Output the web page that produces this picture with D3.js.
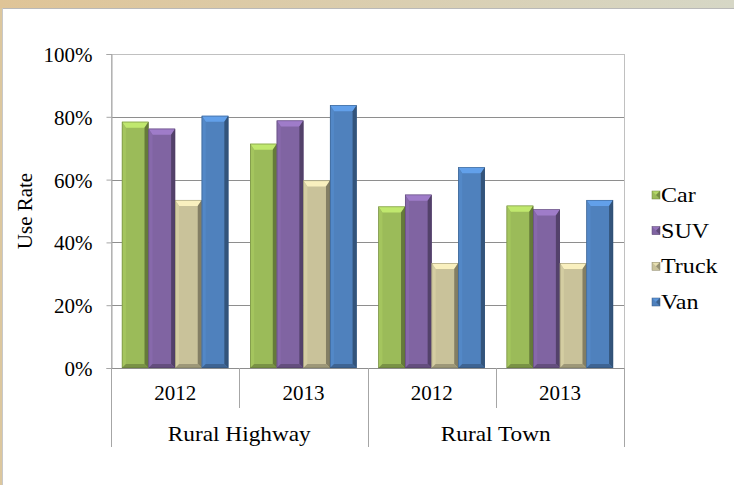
<!DOCTYPE html>
<html>
<head>
<meta charset="utf-8">
<script src="https://cdn.jsdelivr.net/npm/d3@7"></script>
<style>
  html, body { margin: 0; padding: 0; background: #fff; }
  svg { display: block; font-family: "Liberation Serif", "Times New Roman", serif; }
  svg text { font-family: "Liberation Serif", "Times New Roman", serif; }
</style>
</head>
<body>
<svg id="chart" width="734" height="485"></svg>
<script>
// data
const regions = ["Rural Highway", "Rural Town"];
const years = ["2012", "2013"];
const series = ["Car", "SUV", "Truck", "Van"];
const car   = [78.4, 71.4, 51.4, 51.7];
const suv   = [76.2, 78.8, 55.2, 50.5];
const truck = [53.5, 59.7, 33.4, 33.4];
const van   = [80.3, 83.7, 63.9, 53.5];
const yTicks = [0, 20, 40, 60, 80, 100];
const colors = ["#9bbb59", "#8064a2", "#c9c29a", "#4f81bd"];

const values = [car, suv, truck, van];
// one entry per category column (region x year)
const cats = [];
regions.forEach((r, ri) => years.forEach((yr, yi) => cats.push({ region: r, year: yr, key: r + "|" + yr, idx: ri * years.length + yi })));

const svg = d3.select("#chart");
const font = "Liberation Serif, Times New Roman, serif";
const fs = 21;

// page frame: tan band on top, thin tan strip on the left
const grad = svg.append("defs").append("linearGradient").attr("id", "band");
grad.append("stop").attr("offset", "0%").attr("stop-color", "#dfc497");
grad.append("stop").attr("offset", "100%").attr("stop-color", "#d6d7c6");
svg.append("rect").attr("x", 0).attr("y", 0).attr("width", 734).attr("height", 8).attr("fill", "url(#band)");
svg.append("line").attr("x1", 3).attr("x2", 734).attr("y1", 8.5).attr("y2", 8.5).attr("stroke", "#b9b9b9");
svg.append("rect").attr("x", 0).attr("y", 8).attr("width", 2).attr("height", 477).attr("fill", "#dcc79e");
svg.append("line").attr("x1", 2.5).attr("x2", 2.5).attr("y1", 8).attr("y2", 485).attr("stroke", "#c8c8c8");

const margin = { left: 111, right: 624, top: 54, bottom: 368 };

const y = d3.scaleLinear().domain([0, 100]).range([margin.bottom, margin.top]);
const x0 = d3.scaleBand().domain(cats.map(c => c.key)).range([margin.left, margin.right]).padding(0);
const x1 = d3.scaleBand().domain(series).range([0, x0.bandwidth()]).paddingInner(0).paddingOuter(0.41);

const g = svg.append("g");

// gridlines
g.selectAll(".grid").data(yTicks.filter(t => t > 0 && t < 100)).join("line")
  .attr("x1", margin.left).attr("x2", margin.right)
  .attr("y1", d => Math.round(y(d)) + 0.5).attr("y2", d => Math.round(y(d)) + 0.5)
  .attr("stroke", "#8e8e8e");

// plot border
g.append("rect")
  .attr("x", margin.left + 0.5).attr("y", margin.top + 0.5)
  .attr("width", margin.right - margin.left).attr("height", margin.bottom - margin.top)
  .attr("fill", "none").attr("stroke", "#c0c0c0");
g.append("line").attr("x1", margin.left).attr("x2", margin.right)
  .attr("y1", margin.bottom + 0.5).attr("y2", margin.bottom + 0.5).attr("stroke", "#8e8e8e");

// y axis
const yAxis = d3.axisLeft(y).tickValues(yTicks).tickFormat(d => d + "%").tickSize(5).tickPadding(14);
const ya = svg.append("g").attr("transform", `translate(${margin.left + 0.5},0)`).call(yAxis);
ya.attr("font-family", font).attr("font-size", fs);
ya.select(".domain").attr("stroke", "#a6a6a6");
ya.selectAll(".tick line").attr("stroke", "#a6a6a6");
ya.selectAll("text").attr("fill", "#000").attr("dy", "0.36em");

svg.append("text")
  .attr("transform", "translate(32,211) rotate(-90)")
  .attr("text-anchor", "middle")
  .attr("font-family", font).attr("font-size", fs)
  .text("Use Rate");

// bevelled bars
function bevelBar(sel, x, yTop, w, h, color) {
  const c = d3.color(color);
  const b = Math.min(6, h / 2);
  const s = 4;
  sel.append("rect").attr("x", x).attr("y", yTop).attr("width", w).attr("height", h).attr("fill", color);
  sel.append("polygon")
    .attr("points", [[x, yTop], [x + w, yTop], [x + w - s, yTop + b], [x + s, yTop + b]].join(" "))
    .attr("fill", c.brighter(0.6));
  sel.append("polygon")
    .attr("points", [[x, yTop], [x + s, yTop + b], [x + s, yTop + h - s], [x, yTop + h]].join(" "))
    .attr("fill", c.brighter(0.15));
  sel.append("polygon")
    .attr("points", [[x + w, yTop], [x + w, yTop + h], [x + w - s, yTop + h - s], [x + w - s, yTop + b]].join(" "))
    .attr("fill", c.darker(1.2));
  sel.append("polygon")
    .attr("points", [[x, yTop + h], [x + s, yTop + h - s], [x + w - s, yTop + h - s], [x + w, yTop + h]].join(" "))
    .attr("fill", c.darker(0.7));
  sel.append("rect").attr("x", x + 0.25).attr("y", yTop + 0.25).attr("width", w - 0.5).attr("height", h - 0.5)
    .attr("fill", "none").attr("stroke", c.darker(1.5)).attr("stroke-width", 0.6).attr("stroke-opacity", 0.7);
}

cats.forEach(cat => {
  series.forEach((s, si) => {
    const v = values[si][cat.idx];
    const bx = x0(cat.key) + x1(s);
    bevelBar(g.append("g"), bx, y(v), x1.bandwidth(), y(0) - y(v), colors[si]);
  });
});

// two level category axis
const axis = svg.append("g").attr("font-family", font);
cats.forEach((cat, i) => {
  const left = x0(cat.key);
  const firstOfRegion = i % years.length === 0;
  axis.append("line")
    .attr("x1", Math.round(left) + 0.5).attr("x2", Math.round(left) + 0.5)
    .attr("y1", margin.bottom).attr("y2", firstOfRegion ? 447 : 408)
    .attr("stroke", "#a6a6a6");
  axis.append("text")
    .attr("x", left + x0.bandwidth() / 2).attr("y", 400)
    .attr("text-anchor", "middle")
    .attr("font-family", font).attr("font-size", fs)
    .text(cat.year);
});
axis.append("line")
  .attr("x1", margin.right + 0.5).attr("x2", margin.right + 0.5)
  .attr("y1", margin.bottom).attr("y2", 447).attr("stroke", "#a6a6a6");
regions.forEach(r => {
  const ks = cats.filter(c => c.region === r).map(c => c.key);
  const cx = (x0(ks[0]) + x0(ks[ks.length - 1]) + x0.bandwidth()) / 2;
  axis.append("text")
    .attr("transform", `translate(${cx},441) scale(1.06,1)`)
    .attr("text-anchor", "middle")
    .attr("font-family", font).attr("font-size", 22)
    .text(r);
});

// legend
const legendY = d3.scalePoint().domain(series).range([195, 302]);
const lg = svg.append("g").attr("font-family", font);
series.forEach((s, si) => {
  const ly = legendY(s);
  bevelLegend(lg.append("g"), 652, ly - 4, 8, colors[si]);
  lg.append("text")
    .attr("transform", `translate(661,${ly + 7}) scale(1.12,1)`)
    .attr("font-family", font).attr("font-size", 21.5)
    .text(s);
});

function bevelLegend(sel, x, yTop, w, color) {
  const c = d3.color(color);
  sel.append("rect").attr("x", x).attr("y", yTop).attr("width", w).attr("height", w).attr("fill", color);
  sel.append("polygon")
    .attr("points", [[x, yTop], [x + w, yTop], [x + w / 2, yTop + w / 2]].join(" "))
    .attr("fill", c.brighter(0.4));
  sel.append("polygon")
    .attr("points", [[x + w, yTop], [x + w, yTop + w], [x + w / 2, yTop + w / 2]].join(" "))
    .attr("fill", c.darker(0.8));
  sel.append("rect").attr("x", x).attr("y", yTop).attr("width", w).attr("height", w)
    .attr("fill", "none").attr("stroke", c.darker(1)).attr("stroke-width", 0.5);
}
</script>
</body>
</html>
